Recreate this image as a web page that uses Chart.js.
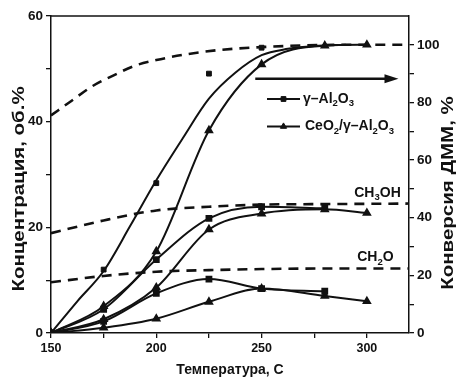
<!DOCTYPE html>
<html>
<head>
<meta charset="utf-8">
<script src="https://cdn.jsdelivr.net/npm/chart.js@4/dist/chart.umd.min.js"></script>
<style>
  html, body { margin: 0; padding: 0; background: #fff; }
  #wrap { width: 458px; height: 383px; }
</style>
</head>
<body>
<div id="wrap"><canvas id="chart" width="458" height="383"></canvas></div>
<script>
// temperatures, C
const tempAl = [150, 175, 200, 225, 250, 280];
const tempCe = [150, 175, 200, 225, 250, 280, 300];

// DMM conversion, % (right axis)
const convAlPts = [0, 22, 52, 90, 99];
const convAlFitT = [150, 162.5, 175, 187.5, 200, 212.5, 225, 237.5, 250, 262.5, 275, 290];
const convAlFit = [0, 11, 21.5, 37, 53, 67.5, 81.3, 90.3, 96.4, 98.6, 99.6, 100];
const convCe = [0, 9.3, 28.3, 70.3, 93.2, 99.7, 100];

// concentrations, vol.% (left axis)
const ch3ohAl = [0, 4.5, 13.9, 21.7, 23.9, 23.6];
const ch3ohCe = [0, 2.6, 8.6, 19.6, 22.6, 23.4, 22.7];
const ch2oAl = [0, 2.2, 7.5, 10.2, 8.4, 7.9];
const ch2oCe = [0, 1.0, 2.7, 5.9, 8.4, 7.0, 6.0];

// equilibrium (dashed)
const eqConvT = [150, 160, 170, 180, 190, 200, 215, 230, 250, 270, 290, 320];
const eqConv = [75.5, 80.7, 85.8, 89.5, 92.8, 94.7, 96.8, 98.2, 99.2, 99.8, 100, 100];
const eqT = [150, 175, 200, 225, 250, 280, 320];
const eqCh3oh = [18.9, 21.3, 23.2, 23.9, 24.3, 24.4, 24.5];
const eqCh2o = [9.6, 10.8, 11.6, 11.9, 12.1, 12.2, 12.2];

// ticks
const xTicks = [150, 175, 200, 225, 250, 275, 300];
const xLabels = [150, 200, 250, 300];
const yTicks = [0, 10, 20, 30, 40, 50, 60];
const yLabels = [0, 20, 40, 60];
const y1Ticks = [0, 10, 20, 30, 40, 50, 60, 70, 80, 90, 100];
const y1Labels = [0, 20, 40, 60, 80, 100];

const INK = '#111';
const FONT = '"Liberation Sans", Arial, sans-serif';

const xy = (xs, ys) => ys.map((v, i) => ({x: xs[i], y: v}));

function solid(data, style, axis) {
    return {
        data, yAxisID: axis, showLine: true,
        borderColor: INK, backgroundColor: INK, borderWidth: 2,
        pointStyle: style, pointRadius: style === 'triangle' ? 3.6 : 3.4,
        cubicInterpolationMode: 'monotone'
    };
}
function dashed(data, axis) {
    return {
        data, yAxisID: axis, showLine: true,
        borderColor: INK, borderWidth: 2.6, borderDash: [10, 7],
        pointRadius: 0, cubicInterpolationMode: 'monotone'
    };
}

// text with subscripts: parts = [[text, isSub], ...]
function richText(ctx, parts, x, y, size) {
    let cx = x;
    ctx.textBaseline = 'middle';
    ctx.textAlign = 'left';
    for (const [t, sub] of parts) {
        const fs = sub ? size * 0.68 : size;
        ctx.font = 'bold ' + fs + 'px ' + FONT;
        ctx.fillText(t, cx, sub ? y + size * 0.33 : y);
        cx += ctx.measureText(t).width;
    }
}

function vTitle(ctx, text, cx, cy) {
    ctx.save();
    ctx.translate(cx, cy);
    ctx.rotate(-Math.PI / 2);
    ctx.scale(1.28, 1);
    ctx.fillText(text, 0, 0);
    ctx.restore();
}

const overlay = {
    id: 'overlay',
    afterDraw(chart) {
        const {ctx, chartArea: a, scales} = chart;
        const {x, y, y1} = scales;
        ctx.save();
        ctx.fillStyle = INK;
        ctx.strokeStyle = INK;

        // top frame line
        ctx.lineWidth = 1.5;
        ctx.beginPath();
        ctx.moveTo(a.left, a.top);
        ctx.lineTo(a.right, a.top);
        ctx.stroke();

        // arrow to right axis
        const ay = y1.getPixelForValue(88.2);
        const ax0 = x.getPixelForValue(247), ax1 = x.getPixelForValue(315);
        ctx.lineWidth = 2.6;
        ctx.beginPath();
        ctx.moveTo(ax0, ay);
        ctx.lineTo(ax1 - 10, ay);
        ctx.stroke();
        ctx.beginPath();
        ctx.moveTo(ax1, ay);
        ctx.lineTo(ax1 - 14, ay - 4.5);
        ctx.lineTo(ax1 - 14, ay + 4.5);
        ctx.closePath();
        ctx.fill();

        // legend
        const rows = [
            {y: 99, style: 'rect', r: 3.4, parts: [['γ–Al', 0], ['2', 1], ['O', 0], ['3', 1]]},
            {y: 126.5, style: 'triangle', r: 3.6, parts: [['CeO', 0], ['2', 1], ['/γ–Al', 0], ['2', 1], ['O', 0], ['3', 1]]}
        ];
        for (const r of rows) {
            ctx.lineWidth = 2.2;
            ctx.beginPath();
            ctx.moveTo(267, r.y);
            ctx.lineTo(300, r.y);
            ctx.stroke();
            ctx.lineWidth = 1;
            Chart.helpers.drawPoint(ctx, {pointStyle: r.style, radius: r.r, rotation: 0, borderWidth: 1}, 283.5, r.y);
            richText(ctx, r.parts, r.style === 'rect' ? 303 : 305, r.y, 14);
        }

        // product labels
        richText(ctx, [['CH', 0], ['3', 1], ['OH', 0]], x.getPixelForValue(294), y.getPixelForValue(26.5), 14);
        richText(ctx, [['CH', 0], ['2', 1], ['O', 0]], x.getPixelForValue(295.4), y.getPixelForValue(14.3), 14);

        // axis titles
        ctx.font = 'bold 14px ' + FONT;
        ctx.textAlign = 'center';
        ctx.textBaseline = 'middle';
        ctx.fillText('Температура, С', (a.left + a.right) / 2, 370);
        ctx.font = 'bold 16px ' + FONT;
        vTitle(ctx, 'Концентрация, об.%', 20, 189);
        vTitle(ctx, 'Конверсия ДММ, %', 449, 193);
        ctx.restore();
    }
};

function axis(position, min, max, ticks, labels, size, fit) {
    return {
        type: 'linear', position, min, max,
        grid: {drawOnChartArea: false, drawTicks: true, tickLength: 5, color: INK, lineWidth: 1.3},
        border: {color: INK, width: 1.5},
        ticks: {
            color: INK, padding: 3,
            font: {family: FONT, size, weight: 'bold'},
            callback: v => labels.includes(v) ? String(v) : ''
        },
        afterBuildTicks: s => { s.ticks = ticks.map(v => ({value: v})); },
        afterFit: fit
    };
}

new Chart(document.getElementById('chart'), {
    type: 'line',
    data: {
        datasets: [
            dashed(xy(eqConvT, eqConv), 'y1'),
            dashed(xy(eqT, eqCh3oh), 'y'),
            dashed(xy(eqT, eqCh2o), 'y'),
            {data: xy(convAlFitT, convAlFit), yAxisID: 'y1', showLine: true, borderColor: INK,
             borderWidth: 2, pointRadius: 0, cubicInterpolationMode: 'monotone'},
            {data: xy(tempAl, convAlPts), yAxisID: 'y1', showLine: false, pointStyle: 'rect',
             pointRadius: 3.4, backgroundColor: INK, borderColor: INK},
            solid(xy(tempCe, convCe), 'triangle', 'y1'),
            solid(xy(tempAl, ch3ohAl), 'rect', 'y'),
            solid(xy(tempCe, ch3ohCe), 'triangle', 'y'),
            solid(xy(tempAl, ch2oAl), 'rect', 'y'),
            solid(xy(tempCe, ch2oCe), 'triangle', 'y')
        ]
    },
    options: {
        responsive: false,
        animation: false,
        layout: {padding: {top: 16, left: 0, right: 0, bottom: 0}},
        plugins: {legend: {display: false}, tooltip: {enabled: false}},
        scales: {
            x: axis('bottom', 150, 320, xTicks, xLabels, 12.5, s => { s.height = 50; }),
            y: axis('left', 0, 60, yTicks, yLabels, 13.5, s => { s.width = 51; }),
            y1: axis('right', 0, 110, y1Ticks, y1Labels, 13.5, s => { s.width = 49; })
        }
    },
    plugins: [overlay]
});
</script>
</body>
</html>
